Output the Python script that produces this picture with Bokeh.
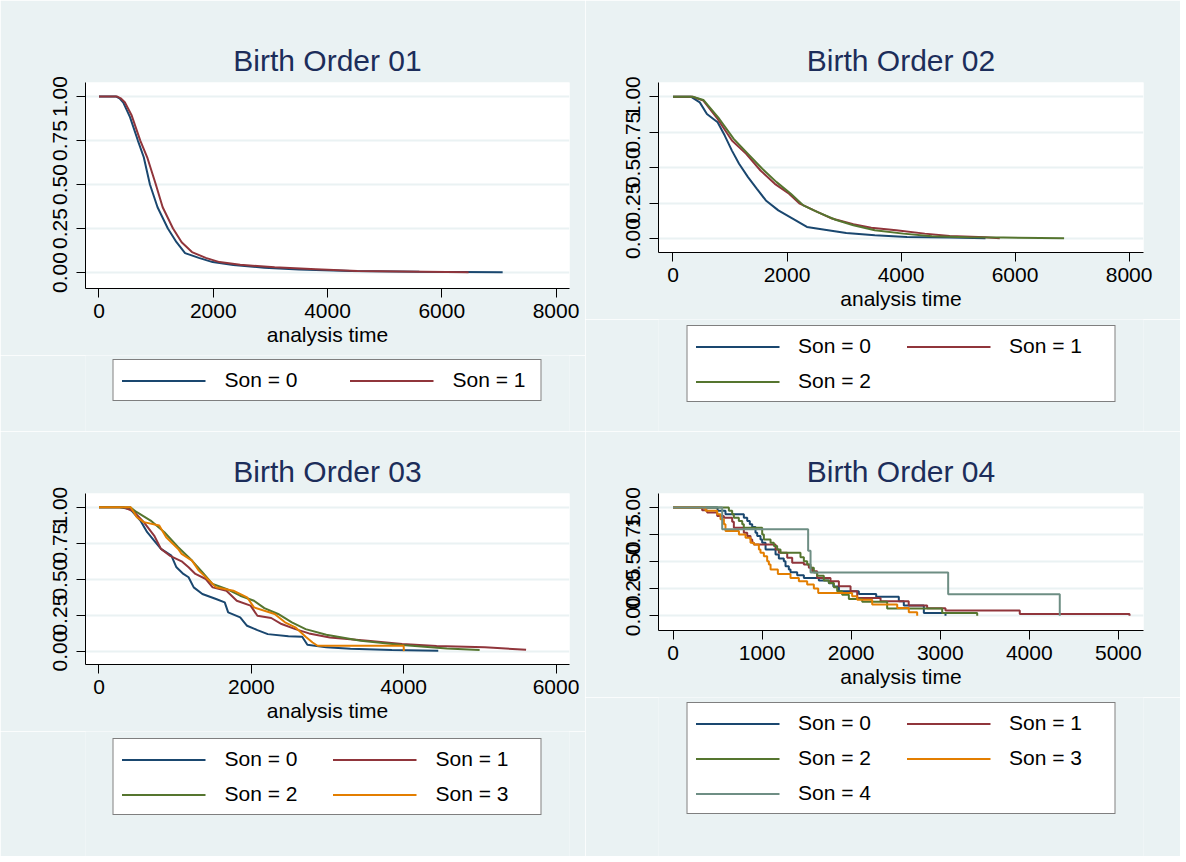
from bokeh.plotting import figure
from bokeh.models import Range1d, FixedTicker, Legend, LegendItem
from bokeh.layouts import column, row
from bokeh.embed import file_html
from bokeh.resources import INLINE

# ---------------- data ----------------
titles = ["Birth Order 01", "Birth Order 02", "Birth Order 03", "Birth Order 04"]
son_labels = ["Son = 0", "Son = 1", "Son = 2", "Son = 3", "Son = 4"]
x_axis_title = "analysis time"
y_ticks = [0, 0.25, 0.5, 0.75, 1.0]
y_tick_labels = ["0.00", "0.25", "0.50", "0.75", "1.00"]
x_ticks_1 = [0, 2000, 4000, 6000, 8000]
x_ticks_2 = [0, 2000, 4000, 6000, 8000]
x_ticks_3 = [0, 2000, 4000, 6000]
x_ticks_4 = [0, 1000, 2000, 3000, 4000, 5000]

# Birth order 01
b1_t0 = [0, 301, 360, 422, 543, 681, 784, 892, 1025, 1206, 1357, 1507, 1748, 1990, 2351, 2894, 3497, 4401, 5607, 7066]
b1_s0 = [1, 1, 0.99, 0.968, 0.883, 0.75, 0.655, 0.5, 0.371, 0.25, 0.172, 0.11, 0.083, 0.059, 0.042, 0.027, 0.017, 0.008, 0.004, 0.002]
b1_t1 = [0, 320, 380, 452, 573, 723, 844, 995, 1115, 1296, 1447, 1628, 1869, 2110, 2472, 3075, 3798, 4522, 6469]
b1_s1 = [1, 1, 0.99, 0.968, 0.892, 0.75, 0.655, 0.5, 0.371, 0.25, 0.172, 0.116, 0.083, 0.059, 0.044, 0.030, 0.019, 0.008, 0.002]

# Birth order 02
b2_t0 = [0, 313, 470, 595, 783, 908, 1034, 1159, 1316, 1472, 1629, 1848, 2099, 2349, 2663, 3039, 3540, 4104, 4855, 5482]
b2_s0 = [1, 1, 0.96, 0.878, 0.82, 0.726, 0.62, 0.527, 0.433, 0.351, 0.269, 0.199, 0.141, 0.082, 0.063, 0.040, 0.023, 0.012, 0.007, 0.002]
b2_t1 = [0, 345, 533, 783, 1034, 1284, 1535, 1786, 2036, 2224, 2475, 2788, 3164, 3477, 3916, 4417, 4855, 5482, 5732]
b2_s1 = [1, 1, 0.972, 0.843, 0.691, 0.597, 0.48, 0.386, 0.316, 0.246, 0.199, 0.141, 0.101, 0.077, 0.059, 0.035, 0.019, 0.009, 0.002]
b2_t2 = [0, 345, 533, 814, 1065, 1316, 1566, 1817, 2067, 2287, 2537, 2851, 3164, 3540, 4041, 4542, 5169, 5795, 6860]
b2_s2 = [1, 1, 0.977, 0.843, 0.703, 0.597, 0.492, 0.398, 0.316, 0.234, 0.187, 0.133, 0.094, 0.059, 0.035, 0.016, 0.009, 0.007, 0.002]

# Birth order 03
b3_t0 = [0, 271, 407, 543, 633, 724, 814, 950, 1017, 1108, 1176, 1244, 1357, 1537, 1651, 1696, 1854, 1944, 2080, 2216, 2487, 2668, 2736, 2984, 3301, 3844, 4454]
b3_s0 = [1, 1, 0.988, 0.907, 0.826, 0.768, 0.71, 0.664, 0.582, 0.536, 0.513, 0.443, 0.397, 0.362, 0.339, 0.269, 0.234, 0.176, 0.146, 0.118, 0.104, 0.1, 0.044, 0.026, 0.016, 0.007, 0.002]
b3_t1 = [0, 317, 452, 588, 724, 814, 927, 1085, 1176, 1266, 1402, 1492, 1673, 1809, 1990, 2080, 2261, 2397, 2578, 2758, 3030, 3527, 3980, 4432, 5065, 5607]
b3_s1 = [1, 1, 0.972, 0.896, 0.803, 0.71, 0.664, 0.624, 0.582, 0.536, 0.501, 0.443, 0.42, 0.35, 0.316, 0.246, 0.23, 0.188, 0.153, 0.123, 0.095, 0.072, 0.049, 0.035, 0.026, 0.009]
b3_t2 = [0, 407, 497, 678, 859, 1040, 1221, 1357, 1492, 1673, 1854, 2035, 2171, 2352, 2532, 2713, 2984, 3437, 3980, 4567, 4997]
b3_s2 = [1, 1, 0.965, 0.907, 0.826, 0.722, 0.629, 0.548, 0.466, 0.432, 0.385, 0.35, 0.299, 0.258, 0.2, 0.153, 0.114, 0.072, 0.042, 0.019, 0.007]
b3_t3 = [0, 416, 497, 588, 791, 882, 1040, 1085, 1221, 1311, 1447, 1537, 1764, 1944, 2035, 2306, 2442, 2578, 2713, 2804, 2870, 4000, 4002]
b3_s3 = [1, 1, 0.93, 0.896, 0.872, 0.791, 0.71, 0.675, 0.629, 0.559, 0.49, 0.443, 0.42, 0.374, 0.304, 0.258, 0.2, 0.165, 0.1, 0.06, 0.037, 0.037, 0.0]

# Birth order 04 (step curves)
b4_t0 = [0, 500, 589, 795, 833, 862, 889, 926, 945, 982, 1001, 1039, 1151, 1188, 1244, 1263, 1300, 1319, 1394, 1469, 1637, 1750, 1800, 1862, 2086, 2281, 2535, 2591, 2816, 3059]
b4_s0 = [1, 0.97, 0.938, 0.907, 0.876, 0.845, 0.82, 0.768, 0.737, 0.706, 0.675, 0.613, 0.567, 0.529, 0.505, 0.458, 0.427, 0.402, 0.375, 0.35, 0.325, 0.30, 0.27, 0.226, 0.201, 0.175, 0.135, 0.095, 0.026, 0]
b4_t1 = [0, 327, 383, 496, 571, 664, 683, 795, 833, 870, 889, 908, 1151, 1188, 1282, 1338, 1469, 1525, 1562, 1618, 1768, 1862, 1993, 2068, 2330, 2646, 2853, 3059, 3893, 5125]
b4_s1 = [1, 0.975, 0.954, 0.923, 0.907, 0.87, 0.814, 0.768, 0.737, 0.706, 0.675, 0.659, 0.613, 0.582, 0.536, 0.489, 0.474, 0.443, 0.412, 0.35, 0.319, 0.272, 0.226, 0.164, 0.135, 0.095, 0.07, 0.048, 0.017, 0]
b4_t2 = [0, 627, 664, 683, 739, 777, 795, 1001, 1020, 1095, 1132, 1169, 1207, 1431, 1469, 1506, 1544, 1581, 1618, 1693, 1749, 1806, 1843, 1899, 1974, 2124, 2404, 3022, 3415]
b4_s2 = [1, 0.97, 0.938, 0.907, 0.876, 0.845, 0.814, 0.752, 0.706, 0.675, 0.644, 0.613, 0.582, 0.542, 0.505, 0.474, 0.443, 0.40, 0.37, 0.325, 0.303, 0.263, 0.226, 0.195, 0.155, 0.129, 0.067, 0.026, 0]
b4_t3 = [0, 365, 496, 533, 571, 589, 740, 814, 870, 908, 964, 982, 1020, 1057, 1076, 1095, 1177, 1319, 1413, 1506, 1581, 1630, 2011, 2068, 2236, 2517, 2647, 2741]
b4_s3 = [1, 0.97, 0.938, 0.892, 0.845, 0.783, 0.752, 0.721, 0.675, 0.659, 0.613, 0.582, 0.551, 0.505, 0.474, 0.427, 0.387, 0.35, 0.319, 0.288, 0.251, 0.211, 0.18, 0.149, 0.104, 0.073, 0.033, 0]
b4_t4 = [0, 552, 1517, 1544, 3089, 4342]
b4_s4 = [1, 0.8, 0.6, 0.4, 0.2, 0]

# ---------------- style ----------------
BG = "#eaf2f3"
COLORS = ["#1a476f", "#90353b", "#55752f", "#e37e00", "#6e8e84"]
FONT = "Liberation Sans"
TITLE_COLOR = "#1c2d5a"


def panel(title, series, x_rng, y_rng, x_ticks, w, h, borders, step):
    mbl, mbr, mbt, mbb = borders
    p = figure(width=w, height=h, x_range=Range1d(*x_rng), y_range=Range1d(*y_rng),
               output_backend="svg", toolbar_location=None,
               min_border_left=mbl, min_border_right=mbr, min_border_top=mbt, min_border_bottom=mbb)
    p.border_fill_color = BG
    p.background_fill_color = "white"
    p.outline_line_color = None

    p.title.text = title
    p.title.align = "center"
    p.title.text_font = FONT
    p.title.text_font_size = "30px"
    p.title.text_font_style = "normal"
    p.title.text_color = TITLE_COLOR
    p.title.standoff = 11

    for ax in (p.xaxis[0], p.yaxis[0]):
        ax.axis_line_color = "black"
        ax.axis_line_width = 1
        ax.major_tick_line_color = "black"
        ax.major_tick_out = 9
        ax.major_tick_in = 0
        ax.minor_tick_line_color = None
        ax.major_label_text_font = FONT
        ax.major_label_text_font_size = "21px"
        ax.major_label_text_color = "black"
        ax.major_label_standoff = 6

    p.xaxis.ticker = FixedTicker(ticks=x_ticks)
    p.xaxis.major_label_overrides = {t: str(t) for t in x_ticks}
    p.xaxis.axis_label = x_axis_title
    p.xaxis.axis_label_text_font = FONT
    p.xaxis.axis_label_text_font_size = "21px"
    p.xaxis.axis_label_text_font_style = "normal"
    p.xaxis.axis_label_text_color = "black"
    p.xaxis.axis_label_standoff = 2

    p.yaxis.ticker = FixedTicker(ticks=y_ticks)
    p.yaxis.major_label_overrides = dict(zip(y_ticks, y_tick_labels))
    p.yaxis.major_label_orientation = "vertical"
    p.yaxis.major_label_standoff = 9

    p.xgrid.grid_line_color = None
    p.ygrid.ticker = FixedTicker(ticks=y_ticks)
    p.ygrid.grid_line_color = BG
    p.ygrid.grid_line_width = 2

    for i, (t, s) in enumerate(series):
        if step:
            p.step(t, s, mode="after", line_color=COLORS[i], line_width=2)
        else:
            p.line(t, s, line_color=COLORS[i], line_width=2)
    return p


def legend_fig(series, w, h, mbl, mbr, top_gap, spacing, label_width):
    # the series are drawn here only as legend keys; the view is placed away from the data
    f = figure(width=w, height=h, x_range=Range1d(20000, 30000), y_range=Range1d(5, 6),
               output_backend="svg", toolbar_location=None,
               min_border_left=mbl, min_border_right=mbr, min_border_top=0, min_border_bottom=0)
    f.border_fill_color = BG
    f.background_fill_color = BG
    f.outline_line_color = None
    f.axis.visible = False
    f.grid.grid_line_color = None
    items = []
    for i, (t, s) in enumerate(series):
        r = f.line(t, s, line_color=COLORS[i], line_width=2)
        items.append(LegendItem(label=son_labels[i], renderers=[r]))
    lg = Legend(items=items, orientation="horizontal", ncols=2, location="top_center",
                border_line_color="black", border_line_width=1,
                background_fill_color="white", background_fill_alpha=1.0,
                label_text_font=FONT, label_text_font_size="21px", label_text_color="black",
                glyph_width=84, glyph_height=21, label_standoff=19,
                label_width=label_width, label_height=21,
                padding=8, spacing=spacing, margin=top_gap)
    f.add_layout(lg, "center")
    return f


s1 = [(b1_t0, b1_s0), (b1_t1, b1_s1)]
s2 = [(b2_t0, b2_s0), (b2_t1, b2_s1), (b2_t2, b2_s2)]
s3 = [(b3_t0, b3_s0), (b3_t1, b3_s1), (b3_t2, b3_s2), (b3_t3, b3_s3)]
s4 = [(b4_t0, b4_s0), (b4_t1, b4_s1), (b4_t2, b4_s2), (b4_t3, b4_s3), (b4_t4, b4_s4)]

p1 = panel(titles[0], s1, (-236, 8236), (-0.091, 1.080), x_ticks_1, 585, 355, (85, 16, 82, 67), False)
l1 = legend_fig(s1, 585, 76, 85, 16, 4, 45, 80)
p2 = panel(titles[1], s2, (-254, 8253), (-0.098, 1.10), x_ticks_2, 595, 319, (73, 37, 82, 67), False)
l2 = legend_fig(s2, 595, 112, 73, 37, 6, 11, 97)
p3 = panel(titles[2], s3, (-177, 6177), (-0.093, 1.095), x_ticks_3, 585, 300, (85, 16, 62, 67), False)
l3 = legend_fig(s3, 585, 125, 85, 16, 7, 11, 97)
p4 = panel(titles[3], s4, (-163, 5282), (-0.136, 1.13), x_ticks_4, 595, 266, (73, 37, 62, 67), True)
l4 = legend_fig(s4, 595, 159, 73, 37, 5, 11, 97)

layout = row(column(p1, l1, p3, l3), column(p2, l2, p4, l4))
open("out.html", "w").write(file_html(layout, INLINE))
